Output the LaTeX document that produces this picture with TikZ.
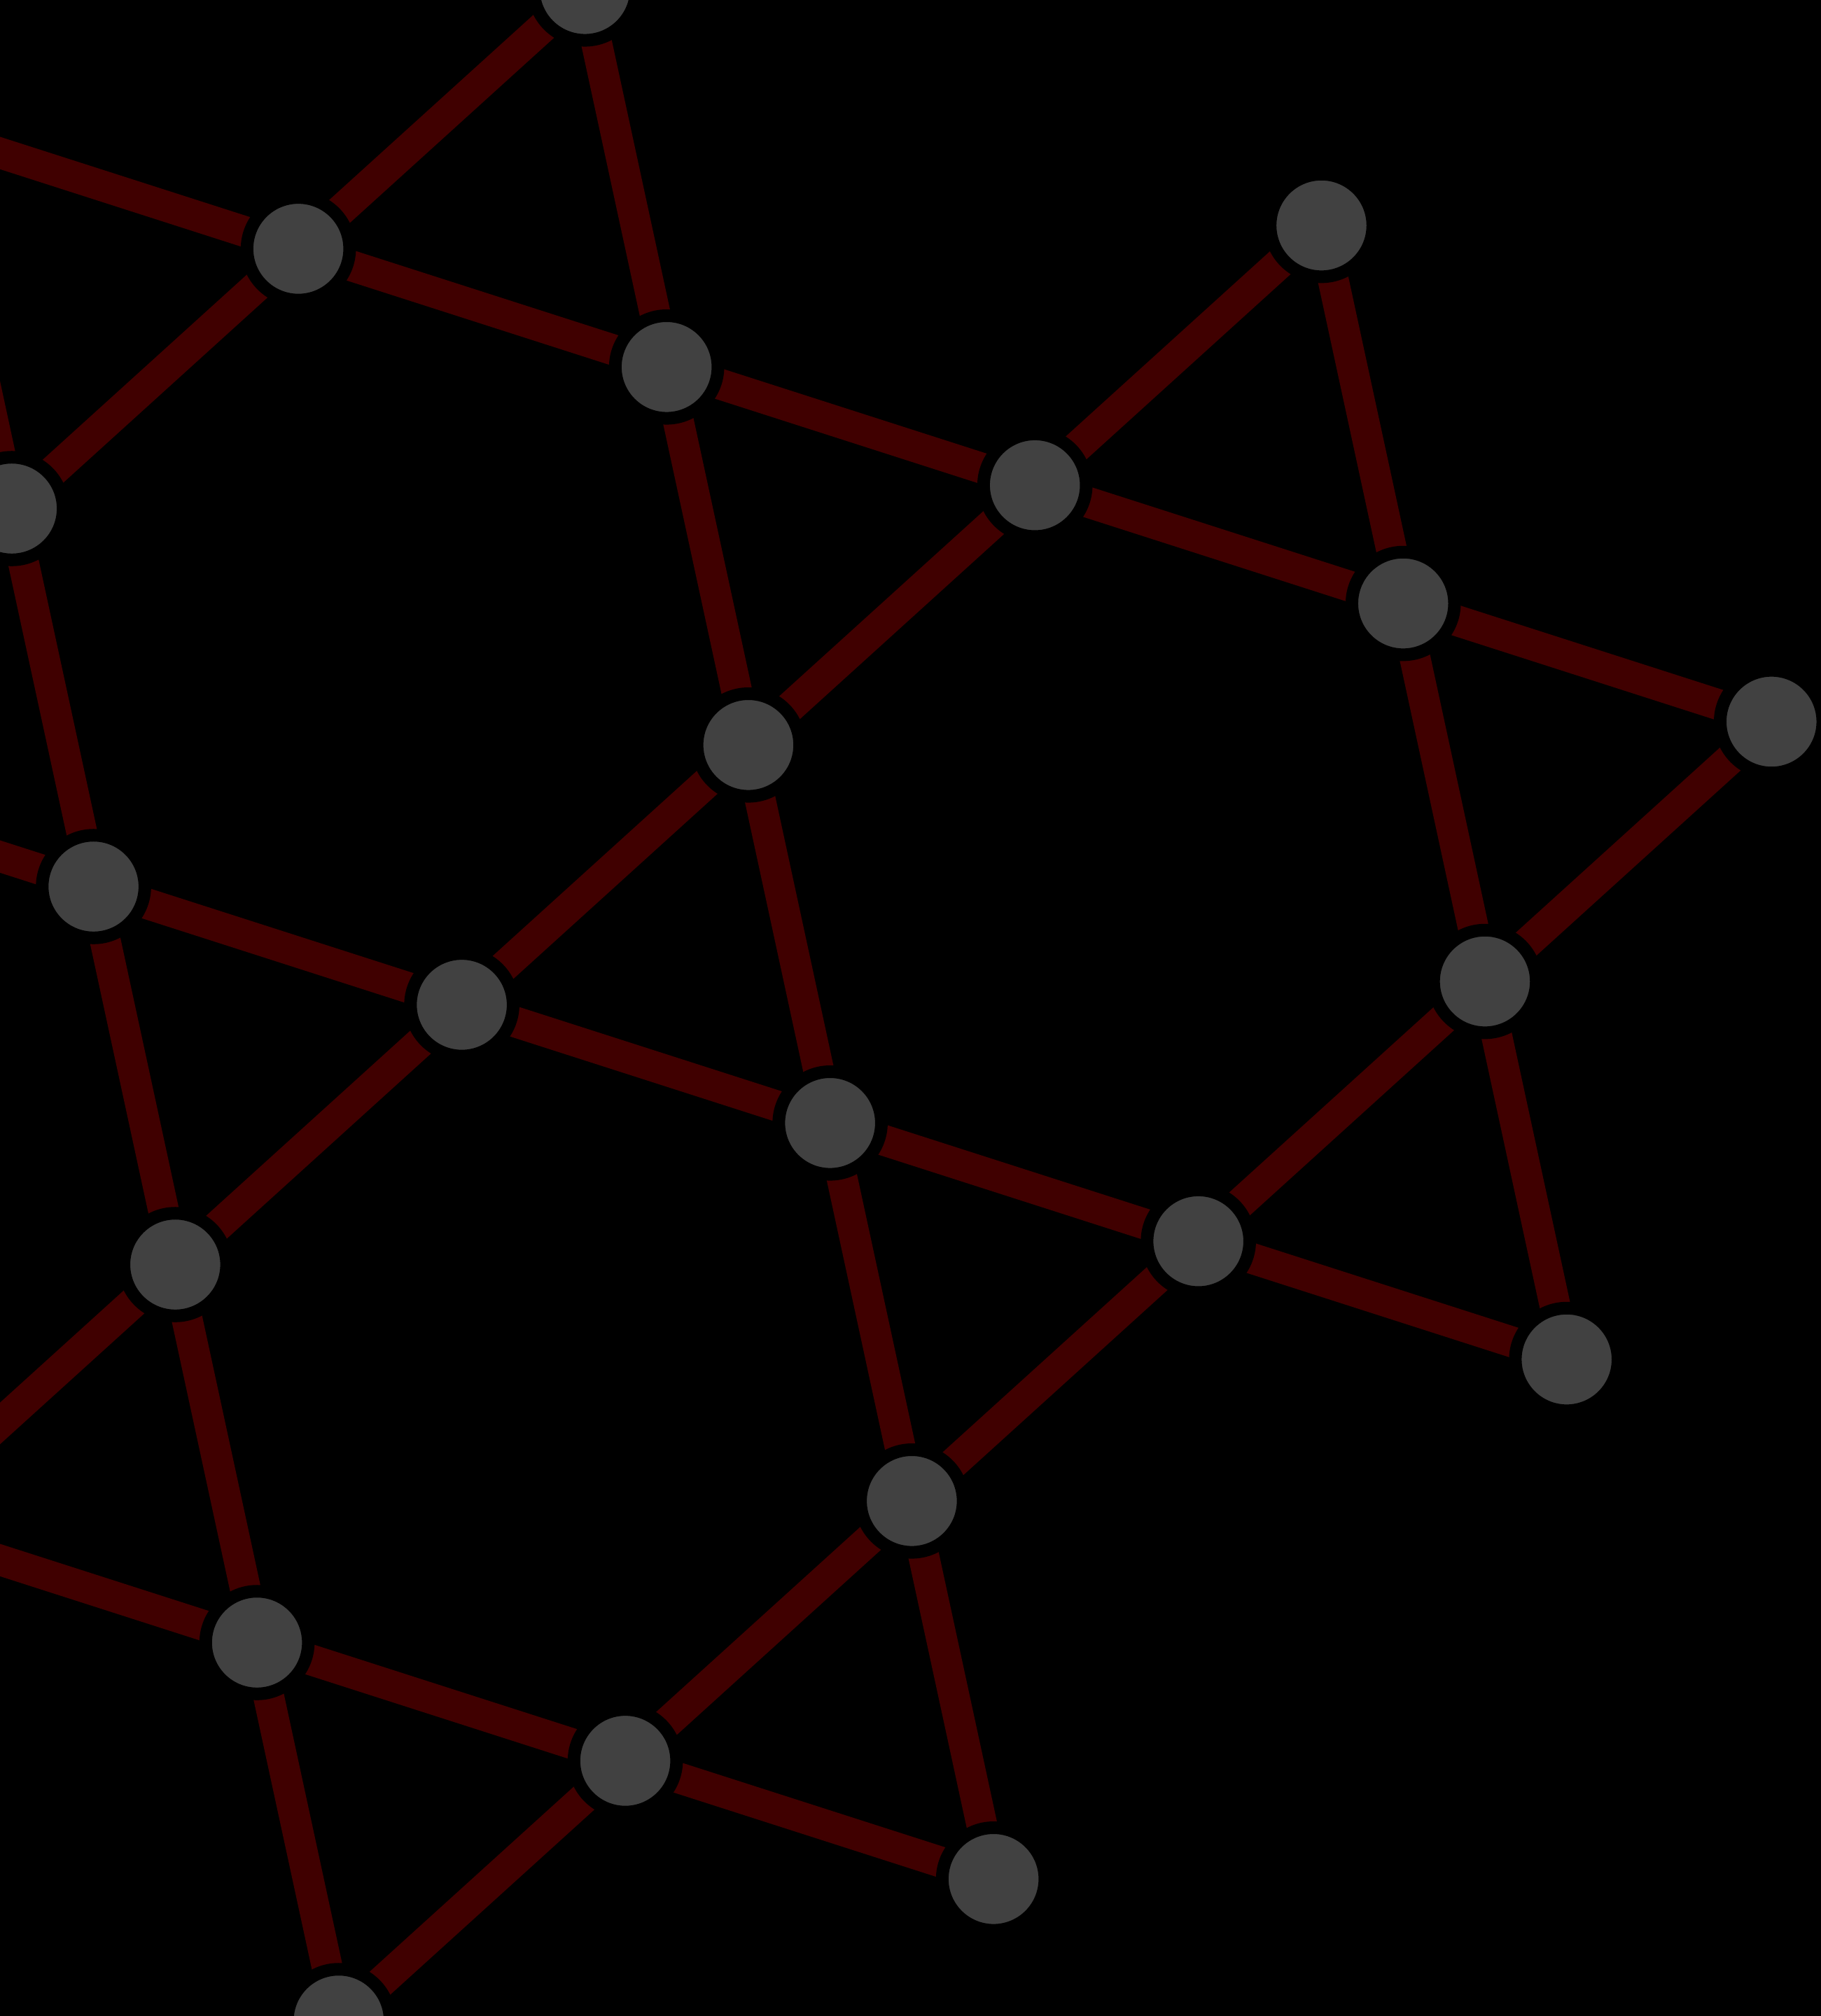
\documentclass[tikz,border=0pt]{standalone}
\usepackage{xcolor}
\usepackage{tikz}
\definecolor{SiteGray}{HTML}{414141}
\definecolor{BondRed}{HTML}{400000}
\pgfdeclarelayer{bonds}
\pgfsetlayers{bonds,main}

\begin{document}
\begin{tikzpicture}[
  site/.style={circle, draw=black, fill=SiteGray, line width=0.098cm, minimum size=0.798cm, inner sep=0pt, outer sep=0pt},
  bond/.style={draw=BondRed, line width=0.24cm}
]
\useasboundingbox (0,0) rectangle (14.16,-15.68);
\clip (0,0) rectangle (14.16,-15.68);
\begin{scope}[shift={(2.32,-1.935)}, x={(-17.8:3.008cm)}, y={(-77.8:3.008cm)}]
\foreach \s/\i/\j in {
  A/1/-1, B/0/0, C/1/0, D/3/-1, E/2/0, F/3/0, G/4/0,
  H/-1/1, I/1/1, J/-1/2, K/0/2, L/1/2, M/3/1, N/-1/3,
  O/2/2, P/3/2, Q/1/3, R/-1/4, S/0/4, T/1/4, U/-1/5}{
  \node[site] (\s) at (\i,\j) {};
}
\coordinate (w1) at (-1,0);
\coordinate (w2) at (-2,2);
\coordinate (w3) at (-2,4);
\end{scope}
\begin{pgfonlayer}{bonds}
\fill[black] (0,0) rectangle (14.16,-15.68);
\clip (0,0) rectangle (14.16,-15.68);
\foreach \u/\v in {
  B/C, B/A, A/C, B/H, C/E, C/I, D/E, D/F, E/F, E/I, F/G, F/M, G/M,
  H/J, I/K, I/L, J/K, J/N, K/L, K/N, L/O, L/Q, M/O, M/P, O/P, O/Q,
  N/R, R/S, R/U, Q/S, Q/T, S/T, S/U, w1/B, w1/H, w2/J, w3/N, w3/R}{
  \draw[bond] (\u.center) -- (\v.center);
}
\end{pgfonlayer}
\end{tikzpicture}
\end{document}
